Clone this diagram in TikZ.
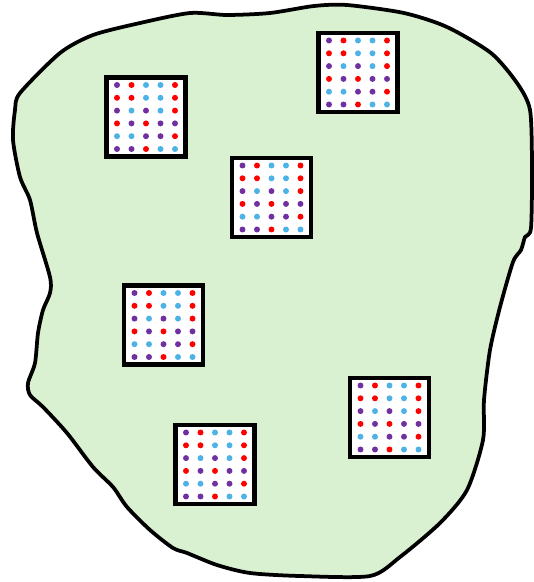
\documentclass[tikz,border=0pt]{standalone}
\usetikzlibrary{positioning}
\definecolor{regiongreen}{RGB}{217,241,208}
\definecolor{dotred}{RGB}{255,0,0}
\definecolor{dotblue}{RGB}{77,178,230}
\definecolor{dotpurple}{RGB}{112,48,160}
\begin{document}
\begin{tikzpicture}[
    x=0.02cm, y=-0.02cm,
    region/.style={draw=black, line width=0.075cm, fill=regiongreen, line join=round},
    patch/.style={rectangle, draw=black, line width=0.085cm, fill=white, minimum size=1.58cm, inner sep=0pt},
    dotP/.style={fill=dotpurple},
    dotR/.style={fill=dotred},
    dotB/.style={fill=dotblue}
]
\useasboundingbox (0,0) rectangle (534,582);

% outline of the region
\draw[region] plot[smooth cycle, tension=0.45] coordinates {
    (190,13) (227,15) (270,13) (314,6) (347,5) (404,13) (447,27) (491,53)
    (517,83) (530,110) (532,167) (531,228) (525,237) (521,250) (513,262)
    (500,307) (490,350) (484,400) (483,440) (467,490) (440,523) (400,557)
    (370,576) (300,576) (250,573) (217,565) (187,553) (173,548) (150,530)
    (127,507) (113,487) (93,467) (67,433) (43,407) (30,395) (28,383)
    (35,363) (38,333) (43,310) (50,293) (50,277) (37,233) (30,200)
    (20,177) (13,140) (15,110) (20,93) (60,53) (93,35) (140,23)};

% the six patches
\node[patch] (patchA) at (146,117) {};
\node[patch] (patchB) at (358,72.5) {};
\node[patch] (patchC) at (271.5,197.5) {};
\node[patch] (patchD) at (163.5,325) {};
\node[patch] (patchE) at (389.5,417.5) {};
\node[patch] (patchF) at (215,464.5) {};

% same dot layout in every patch
\foreach \p in {patchA,patchB,patchC,patchD,patchE,patchF}
  \foreach \row [count=\j] in {{P,R,B,B,R},{R,R,B,B,R},{P,B,P,B,R},{R,P,R,P,P},{B,B,P,P,R},{P,P,R,B,B}}
    \foreach \c [count=\i] in \row
      \fill[dot\c, shift={(\p)}] ({(\i-3)*14.5},{(\j-3.5)*12.8}) circle (1.7pt);
\end{tikzpicture}
\end{document}
